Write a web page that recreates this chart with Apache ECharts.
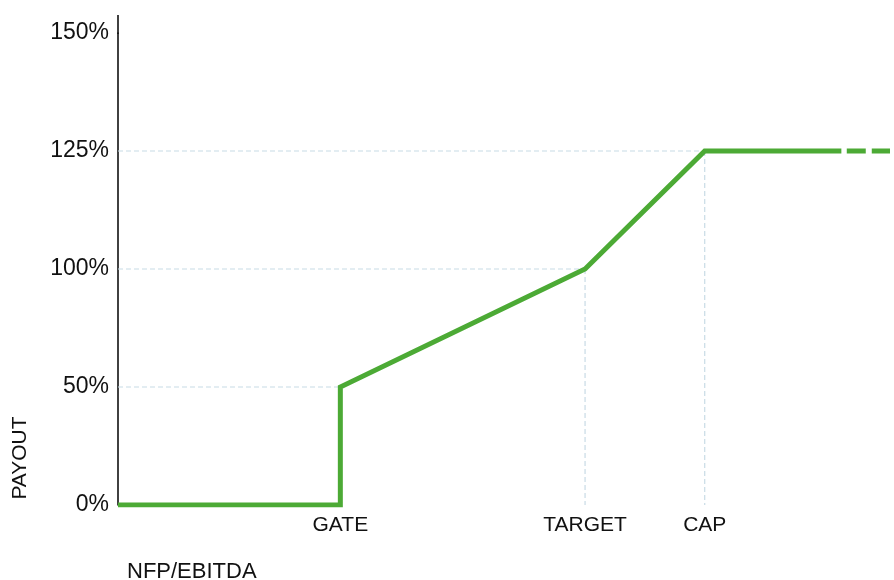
<!DOCTYPE html>
<html>
<head>
<meta charset="utf-8">
<script src="https://cdn.jsdelivr.net/npm/echarts@6/dist/echarts.min.js"></script>
<style>
  html, body { margin: 0; padding: 0; background: #fff; }
  #chart { width: 894px; height: 580px; }
</style>
</head>
<body>
<div id="chart"></div>
<script>
// y levels (schematic payout axis)
const yLevels = ['0%', '50%', '100%', '125%', '150%'];
// x stops on the NFP/EBITDA axis
const xLabels = ['GATE', 'TARGET', 'CAP'];
const xStops = [28.8, 60.5, 76.0];
// payout curve
const payoutX = [0, 28.8, 28.8, 60.5, 76.0, 93.7];
const payoutY = ['0%', '0%', '50%', '100%', '125%', '125%'];
// dashed continuation after the cap
const extendX = [94.4, 100];
const extendY = ['125%', '125%'];

const green = '#4caa35';
const guideColor = '#c8dbe5';
const font = 'Liberation Sans, Arial, sans-serif';

const zip = (xs, ys) => xs.map((x, i) => [x, ys[i]]);

// light dashed guides from the axes to the key points
const guides = [
  [[0, '50%'], [xStops[0], '50%']],
  [[0, '100%'], [xStops[1], '100%']],
  [[0, '125%'], [xStops[2], '125%']],
  [[xStops[1], '100%'], [xStops[1], '0%']],
  [[xStops[2], '125%'], [xStops[2], '0%']]
];

const chart = echarts.init(document.getElementById('chart'));

chart.setOption({
  animation: false,
  textStyle: { fontFamily: font },
  grid: { left: 118, right: 4, top: 33, bottom: 75 },
  xAxis: {
    type: 'value',
    min: 0,
    max: 100,
    axisLine: { lineStyle: { color: '#111', width: 1.6 } },
    axisTick: { show: false },
    splitLine: { show: false },
    axisLabel: {
      customValues: xStops,
      formatter: v => xLabels[xStops.indexOf(v)] || '',
      color: '#111',
      fontSize: 21,
      margin: 10
    }
  },
  yAxis: {
    type: 'category',
    data: yLevels,
    boundaryGap: false,
    axisLine: { lineStyle: { color: '#111', width: 1.6 } },
    axisTick: { show: false },
    splitLine: { show: false },
    axisLabel: { color: '#111', fontSize: 23, margin: 9 }
  },
  graphic: [
    { type: 'line', shape: { x1: 118, y1: 15, x2: 118, y2: 34 },
      style: { stroke: '#111', lineWidth: 1.6 } },
    { type: 'text', x: 20, y: 458, rotation: Math.PI / 2,
      style: { text: 'PAYOUT', fill: '#111', font: '21px ' + font,
               textAlign: 'center', textVerticalAlign: 'middle' } },
    { type: 'text', x: 127, y: 572,
      style: { text: 'NFP/EBITDA', fill: '#111', font: '22px ' + font,
               textAlign: 'left', textVerticalAlign: 'middle' } }
  ],
  series: [
    ...guides.map(g => ({
      type: 'line',
      data: g,
      symbol: 'none',
      silent: true,
      z: 1,
      lineStyle: { color: guideColor, width: 1.2, type: [5, 3] }
    })),
    {
      type: 'line',
      data: zip(payoutX, payoutY),
      symbol: 'none',
      z: 3,
      lineStyle: { color: green, width: 5, join: 'miter' }
    },
    {
      type: 'line',
      data: zip(extendX, extendY),
      symbol: 'none',
      z: 3,
      lineStyle: { color: green, width: 5, type: [19, 6] }
    }
  ]
});
</script>
</body>
</html>
